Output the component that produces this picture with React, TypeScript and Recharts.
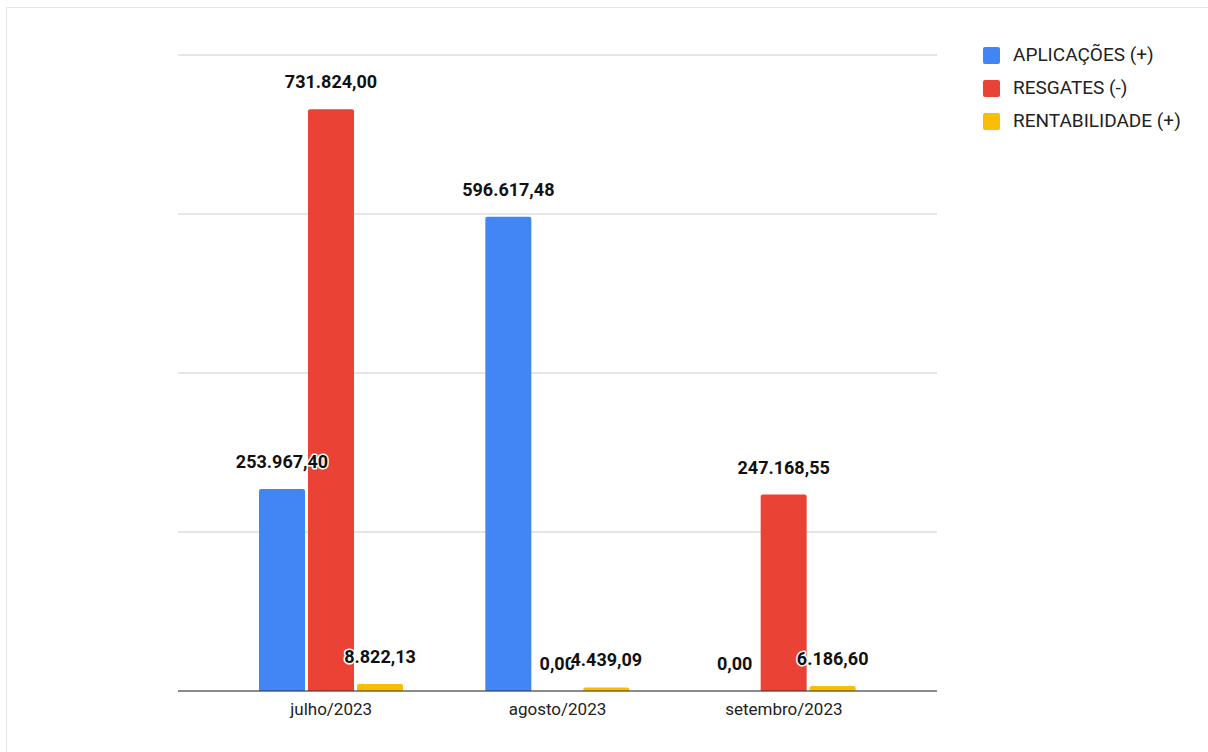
import React from "react";
import {
  BarChart,
  Bar,
  XAxis,
  YAxis,
  CartesianGrid,
  LabelList,
} from "recharts";

const months = ["julho/2023", "agosto/2023", "setembro/2023"];
const aplicacoes = [253967.4, 596617.48, 0];
const resgates = [731824.0, 0, 247168.55];
const rentabilidade = [8822.13, 4439.09, 6186.6];
const yTicks = [0, 200000, 400000, 600000, 800000];

const series = [
  { key: "aplicacoes", name: "APLICAÇÕES (+)", color: "#4285F4" },
  { key: "resgates", name: "RESGATES (-)", color: "#EA4335" },
  { key: "rentabilidade", name: "RENTABILIDADE (+)", color: "#FBBC04" },
];

const data = months.map((month, i) => ({
  month,
  aplicacoes: aplicacoes[i],
  resgates: resgates[i],
  rentabilidade: rentabilidade[i],
}));

// formato pt-BR: 731.824,00
const fmt = (v: number) => {
  const [int, dec] = Number(v).toFixed(2).split(".");
  return int.replace(/\B(?=(\d{3})+(?!\d))/g, ".") + "," + dec;
};

const ValueLabel = (props: any) => {
  const { x, y, width, height, value } = props;
  if (value == null) return null;
  // topo da barra (height pode ser negativo em alguns casos)
  const top = Math.min(Number(y), Number(y) + Number(height || 0));
  return (
    <text
      x={Number(x) + Number(width) / 2}
      y={top - 21}
      textAnchor="middle"
      fontFamily="Roboto"
      fontWeight={700}
      fontSize={18}
      fill="#111"
      stroke="#fff"
      strokeWidth={3}
      paintOrder="stroke"
      strokeLinejoin="round"
    >
      {fmt(value)}
    </text>
  );
};

const App: React.FC = () => {
  return (
    <div
      style={{
        position: "absolute",
        left: 0,
        top: 0,
        width: 1208,
        height: 752,
        background: "#fff",
        overflow: "hidden",
      }}
    >
      <div
        style={{
          position: "absolute",
          left: 6,
          top: 7,
          width: 1202,
          height: 745,
          borderTop: "1px solid #e6e6e6",
          borderLeft: "1px solid #e6e6e6",
        }}
      />
      <div style={{ position: "absolute", left: 0, top: 0 }}>
        <BarChart
          width={1208}
          height={752}
          data={data}
          margin={{ top: 55, right: 271, left: 178, bottom: 31 }}
          barSize={46}
          barGap={3}
        >
          <CartesianGrid vertical={false} stroke="#cccccc" />
          <YAxis hide domain={[0, 800000]} ticks={yTicks} />
          <XAxis
            dataKey="month"
            height={30}
            padding={{ left: 40, right: 40 }}
            axisLine={{ stroke: "#333" }}
            tickLine={false}
            tickSize={0}
            tickMargin={12}
            tick={{ fontSize: 17, fontFamily: "Roboto", fill: "#222" }}
          />
          {series.map((s) => (
            <Bar
              key={s.key}
              dataKey={s.key}
              name={s.name}
              fill={s.color}
              radius={[2, 2, 0, 0]}
              minPointSize={0.01}
              isAnimationActive={false}
            >
              <LabelList dataKey={s.key} content={<ValueLabel />} />
            </Bar>
          ))}
        </BarChart>
      </div>
      {series.map((s, i) => (
        <div
          key={s.key}
          style={{
            position: "absolute",
            left: 983,
            top: 44 + i * 33,
            height: 22,
            display: "flex",
            alignItems: "center",
            fontFamily: "Roboto",
            fontSize: 19,
            lineHeight: "22px",
            color: "#222",
            whiteSpace: "nowrap",
          }}
        >
          <span
            style={{
              display: "inline-block",
              width: 17,
              height: 17,
              borderRadius: 2,
              background: s.color,
              marginRight: 13,
            }}
          />
          {s.name}
        </div>
      ))}
    </div>
  );
};

export default App;
